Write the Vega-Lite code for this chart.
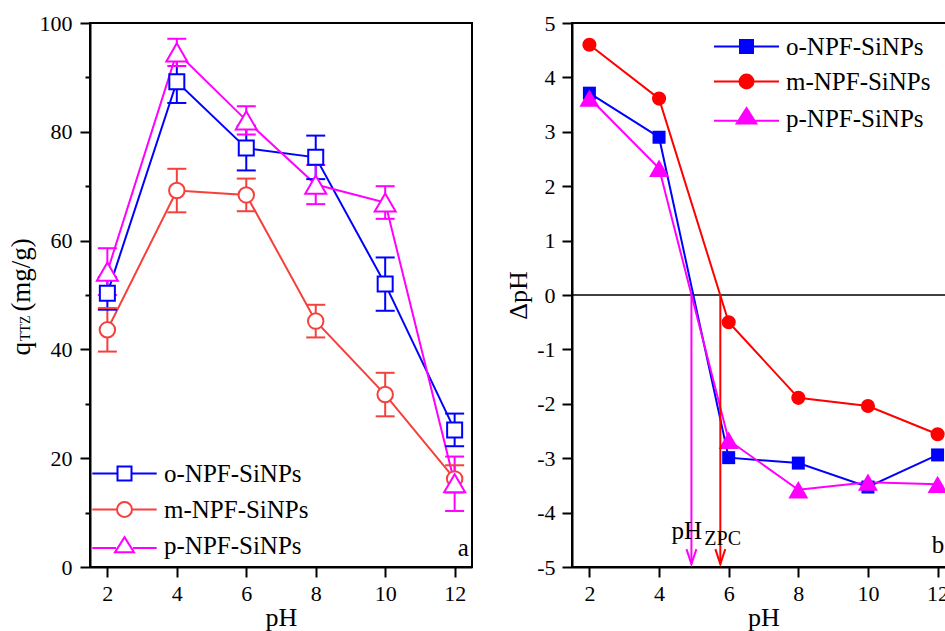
{
  "$schema": "https://vega.github.io/schema/vega-lite/v6.json",
  "background": "white",
  "padding": {"left": 6, "top": 11, "right": 0, "bottom": 0},
  "spacing": 31,
  "config": {
    "font": "Liberation Serif",
    "view": {"stroke": "black", "strokeWidth": 2},
    "axis": {
      "domainColor": "black", "domainWidth": 2, "tickColor": "black", "tickWidth": 2,
      "labelColor": "black", "labelFont": "Liberation Serif", "labelFontSize": 22,
      "titleFont": "Liberation Serif", "titleFontSize": 26, "titleFontWeight": "normal",
      "titleColor": "black", "grid": false, "labelOverlap": false, "labelFlush": false
    }
  },
  "resolve": {
    "scale": {"color": "independent", "shape": "independent", "stroke": "independent"},
    "legend": {"color": "independent", "shape": "independent", "stroke": "independent"}
  },
  "datasets": {
    "ads": [
      {"pH": 2, "series": "o-NPF-SiNPs", "q": 50.3, "lo": 47.3, "hi": 53.3},
      {"pH": 4, "series": "o-NPF-SiNPs", "q": 89.2, "lo": 85.3, "hi": 93.1},
      {"pH": 6, "series": "o-NPF-SiNPs", "q": 77.0, "lo": 72.9, "hi": 81.1},
      {"pH": 8, "series": "o-NPF-SiNPs", "q": 75.3, "lo": 71.3, "hi": 79.3},
      {"pH": 10, "series": "o-NPF-SiNPs", "q": 52.0, "lo": 47.1, "hi": 56.9},
      {"pH": 12, "series": "o-NPF-SiNPs", "q": 25.2, "lo": 22.2, "hi": 28.2},
      {"pH": 2, "series": "m-NPF-SiNPs", "q": 43.6, "lo": 39.6, "hi": 47.6},
      {"pH": 4, "series": "m-NPF-SiNPs", "q": 69.2, "lo": 65.2, "hi": 73.2},
      {"pH": 6, "series": "m-NPF-SiNPs", "q": 68.4, "lo": 65.4, "hi": 71.4},
      {"pH": 8, "series": "m-NPF-SiNPs", "q": 45.2, "lo": 42.2, "hi": 48.2},
      {"pH": 10, "series": "m-NPF-SiNPs", "q": 31.7, "lo": 27.7, "hi": 35.7},
      {"pH": 12, "series": "m-NPF-SiNPs", "q": 16.2, "lo": 13.7, "hi": 18.7},
      {"pH": 2, "series": "p-NPF-SiNPs", "q": 54.3, "lo": 50.0, "hi": 58.6},
      {"pH": 4, "series": "p-NPF-SiNPs", "q": 94.6, "lo": 92.1, "hi": 97.1},
      {"pH": 6, "series": "p-NPF-SiNPs", "q": 82.1, "lo": 79.5, "hi": 84.7},
      {"pH": 8, "series": "p-NPF-SiNPs", "q": 70.3, "lo": 66.7, "hi": 73.9},
      {"pH": 10, "series": "p-NPF-SiNPs", "q": 67.0, "lo": 64.0, "hi": 70.0},
      {"pH": 12, "series": "p-NPF-SiNPs", "q": 15.4, "lo": 10.3, "hi": 20.3}
    ],
    "zpc": [
      {"pH": 2, "sample": "o-NPF-SiNPs", "d": 3.71},
      {"pH": 4, "sample": "o-NPF-SiNPs", "d": 2.9},
      {"pH": 6, "sample": "o-NPF-SiNPs", "d": -2.99},
      {"pH": 8, "sample": "o-NPF-SiNPs", "d": -3.09},
      {"pH": 10, "sample": "o-NPF-SiNPs", "d": -3.53},
      {"pH": 12, "sample": "o-NPF-SiNPs", "d": -2.94},
      {"pH": 2, "sample": "m-NPF-SiNPs", "d": 4.6},
      {"pH": 4, "sample": "m-NPF-SiNPs", "d": 3.61},
      {"pH": 6, "sample": "m-NPF-SiNPs", "d": -0.5},
      {"pH": 8, "sample": "m-NPF-SiNPs", "d": -1.89},
      {"pH": 10, "sample": "m-NPF-SiNPs", "d": -2.04},
      {"pH": 12, "sample": "m-NPF-SiNPs", "d": -2.56},
      {"pH": 2, "sample": "p-NPF-SiNPs", "d": 3.62},
      {"pH": 4, "sample": "p-NPF-SiNPs", "d": 2.33},
      {"pH": 6, "sample": "p-NPF-SiNPs", "d": -2.67},
      {"pH": 8, "sample": "p-NPF-SiNPs", "d": -3.58},
      {"pH": 10, "sample": "p-NPF-SiNPs", "d": -3.44},
      {"pH": 12, "sample": "p-NPF-SiNPs", "d": -3.48}
    ]
  },
  "hconcat": [
    {
      "width": 382,
      "height": 544,
      "data": {"name": "ads"},
      "layer": [
        {
          "transform": [{"filter": "false"}],
          "mark": {"type": "point", "filled": false, "strokeWidth": 2, "opacity": 1},
          "encoding": {
            "x": {"field": "pH", "type": "quantitative"},
            "y": {"field": "q", "type": "quantitative"},
            "color": {"field": "series", "type": "nominal",
              "legend": {"title": null, "orient": "none", "legendX": -3, "legendY": 438, "padding": 0,
                "symbolSize": 196, "symbolStrokeWidth": 2, "symbolOffset": 25, "labelOffset": 27,
                "labelFontSize": 25, "labelFont": "Liberation Serif", "labelColor": "black", "rowPadding": 10,
                "symbolFillColor": "white"}},
            "shape": {"field": "series", "type": "nominal",
              "scale": {"domain": ["o-NPF-SiNPs", "m-NPF-SiNPs", "p-NPF-SiNPs"],
                "range": [
                  "M-4.6,0H-1M1,0H4.6M-1,-1H1V1H-1Z",
                  "M-4.6,0H-1.07M1.07,0H4.6M-1.07,0A1.07,1.07,0,1,1,1.07,0A1.07,1.07,0,1,1,-1.07,0Z",
                  "M-4.6,0.35H-1.2M1.2,0.35H4.6M0,-1.2L1.35,0.95H-1.35Z"
                ]},
              "legend": {"title": null, "orient": "none", "legendX": -3, "legendY": 438, "padding": 0,
                "symbolSize": 196, "symbolStrokeWidth": 2, "symbolOffset": 25, "labelOffset": 27,
                "labelFontSize": 25, "labelFont": "Liberation Serif", "labelColor": "black", "rowPadding": 10,
                "symbolFillColor": "white"}}
          }
        },
        {
          "mark": {"type": "line", "strokeWidth": 2},
          "encoding": {
            "x": {"field": "pH", "type": "quantitative",
              "scale": {"domain": [1.5, 12.5], "nice": false, "zero": false},
              "axis": {"values": [2, 3, 4, 5, 6, 7, 8, 9, 10, 11, 12],
                "labelExpr": "datum.value % 2 === 0 ? datum.label : ''",
                "tickSize": {"condition": {"test": "datum.value % 2 === 0", "value": 10}, "value": 5},
                "title": "pH", "labelPadding": 6, "titlePadding": 0}},
            "y": {"field": "q", "type": "quantitative",
              "scale": {"domain": [0, 100], "nice": false},
              "axis": {"values": [0, 10, 20, 30, 40, 50, 60, 70, 80, 90, 100],
                "labelExpr": "datum.value % 20 === 0 ? datum.label : ''",
                "tickSize": {"condition": {"test": "datum.value % 20 === 0", "value": 10}, "value": 5},
                "title": null, "labelPadding": 8}},
            "color": {"field": "series", "type": "nominal",
              "scale": {"domain": ["o-NPF-SiNPs", "m-NPF-SiNPs", "p-NPF-SiNPs"], "range": ["#0000ff", "#f5403c", "#ff00ff"]}}
          }
        },
        {
          "mark": {"type": "rule", "strokeWidth": 2},
          "encoding": {
            "x": {"field": "pH", "type": "quantitative"},
            "y": {"field": "lo", "type": "quantitative"},
            "y2": {"field": "hi"},
            "color": {"field": "series", "type": "nominal"}
          }
        },
        {
          "mark": {"type": "rule", "strokeWidth": 2, "xOffset": -9.5, "x2Offset": 9.5},
          "encoding": {
            "x": {"field": "pH", "type": "quantitative"},
            "x2": {"field": "pH"},
            "y": {"field": "lo", "type": "quantitative"},
            "color": {"field": "series", "type": "nominal"}
          }
        },
        {
          "mark": {"type": "rule", "strokeWidth": 2, "xOffset": -9.5, "x2Offset": 9.5},
          "encoding": {
            "x": {"field": "pH", "type": "quantitative"},
            "x2": {"field": "pH"},
            "y": {"field": "hi", "type": "quantitative"},
            "color": {"field": "series", "type": "nominal"}
          }
        },
        {
          "transform": [{"filter": "datum.series === 'o-NPF-SiNPs'"}],
          "mark": {"type": "point", "shape": "square", "filled": false, "fill": "white", "size": 225, "strokeWidth": 2, "opacity": 1},
          "encoding": {
            "x": {"field": "pH", "type": "quantitative"},
            "y": {"field": "q", "type": "quantitative"},
            "color": {"field": "series", "type": "nominal"}
          }
        },
        {
          "transform": [{"filter": "datum.series === 'm-NPF-SiNPs'"}],
          "mark": {"type": "point", "shape": "circle", "filled": false, "fill": "white", "size": 240, "strokeWidth": 2, "opacity": 1},
          "encoding": {
            "x": {"field": "pH", "type": "quantitative"},
            "y": {"field": "q", "type": "quantitative"},
            "color": {"field": "series", "type": "nominal"}
          }
        },
        {
          "transform": [{"filter": "datum.series === 'p-NPF-SiNPs'"}],
          "mark": {"type": "point", "shape": "triangle-up", "filled": false, "fill": "white", "size": 440, "strokeWidth": 2, "opacity": 1},
          "encoding": {
            "x": {"field": "pH", "type": "quantitative"},
            "y": {"field": "q", "type": "quantitative"},
            "color": {"field": "series", "type": "nominal"}
          }
        },
        {
          "data": {"values": [{"t": "q"}]},
          "mark": {"type": "text", "angle": 270, "align": "center", "baseline": "alphabetic", "fontSize": 27, "color": "black"},
          "encoding": {"x": {"datum": -0.242}, "y": {"datum": 40.1}, "text": {"field": "t"}}
        },
        {
          "data": {"values": [{"t": "TTZ"}]},
          "mark": {"type": "text", "angle": 270, "align": "center", "baseline": "alphabetic", "fontSize": 14, "color": "black"},
          "encoding": {"x": {"datum": -0.22}, "y": {"datum": 43.9}, "text": {"field": "t"}}
        },
        {
          "data": {"values": [{"t": "(mg/g)"}]},
          "mark": {"type": "text", "angle": 270, "align": "center", "baseline": "alphabetic", "fontSize": 27, "color": "black"},
          "encoding": {"x": {"datum": -0.242}, "y": {"datum": 53.7}, "text": {"field": "t"}}
        },
        {
          "data": {"values": [{"t": "a"}]},
          "mark": {"type": "text", "align": "right", "baseline": "alphabetic", "fontSize": 25, "color": "black"},
          "encoding": {"x": {"datum": 12.41}, "y": {"datum": 2.1}, "text": {"field": "t"}}
        }
      ]
    },
    {
      "width": 383,
      "height": 544,
      "data": {"name": "zpc"},
      "layer": [
        {
          "data": {"values": [{"zero": 0}]},
          "mark": {"type": "rule", "color": "black", "strokeWidth": 1.5},
          "encoding": {"y": {"field": "zero", "type": "quantitative"}}
        },
        {
          "mark": {"type": "line", "strokeWidth": 2},
          "encoding": {
            "x": {"field": "pH", "type": "quantitative",
              "scale": {"domain": [1.5, 12.5], "nice": false, "zero": false},
              "axis": {"values": [2, 3, 4, 5, 6, 7, 8, 9, 10, 11, 12],
                "labelExpr": "datum.value % 2 === 0 ? datum.label : ''",
                "tickSize": {"condition": {"test": "datum.value % 2 === 0", "value": 10}, "value": 5},
                "title": "pH", "labelPadding": 6, "titlePadding": 0}},
            "y": {"field": "d", "type": "quantitative",
              "scale": {"domain": [-5, 5], "nice": false, "zero": false},
              "axis": {"values": [-5, -4, -3, -2, -1, 0, 1, 2, 3, 4, 5],
                "labelExpr": "'' + datum.value", "tickSize": 10,
                "title": "ΔpH", "labelPadding": 7, "titlePadding": 5}},
            "color": {"field": "sample", "type": "nominal",
              "scale": {"domain": ["o-NPF-SiNPs", "m-NPF-SiNPs", "p-NPF-SiNPs"], "range": ["#0000ff", "#ff0000", "#ff00ff"]}}
          }
        },
        {
          "transform": [{"filter": "datum.sample === 'o-NPF-SiNPs'"}],
          "mark": {"type": "point", "shape": "square", "filled": true, "size": 169, "opacity": 1},
          "encoding": {
            "x": {"field": "pH", "type": "quantitative"},
            "y": {"field": "d", "type": "quantitative"},
            "color": {"field": "sample", "type": "nominal"}
          }
        },
        {
          "transform": [{"filter": "datum.sample === 'm-NPF-SiNPs'"}],
          "mark": {"type": "point", "shape": "circle", "filled": true, "size": 200, "opacity": 1},
          "encoding": {
            "x": {"field": "pH", "type": "quantitative"},
            "y": {"field": "d", "type": "quantitative"},
            "color": {"field": "sample", "type": "nominal"}
          }
        },
        {
          "transform": [{"filter": "datum.sample === 'p-NPF-SiNPs'"}],
          "mark": {"type": "point", "shape": "triangle-up", "filled": true, "size": 400, "opacity": 1},
          "encoding": {
            "x": {"field": "pH", "type": "quantitative"},
            "y": {"field": "d", "type": "quantitative"},
            "color": {"field": "sample", "type": "nominal"}
          }
        },
        {
          "data": {"values": [{"zpc": 4.93, "top": 0, "bottom": -4.95}]},
          "mark": {"type": "rule", "strokeWidth": 2, "color": "#ff00ff"},
          "encoding": {
            "x": {"field": "zpc", "type": "quantitative"},
            "y": {"field": "top", "type": "quantitative"},
            "y2": {"field": "bottom"}
          }
        },
        {
          "data": {"values": [{"zpc": 5.76, "top": 0, "bottom": -4.95}]},
          "mark": {"type": "rule", "strokeWidth": 2, "color": "#ff0000"},
          "encoding": {
            "x": {"field": "zpc", "type": "quantitative"},
            "y": {"field": "top", "type": "quantitative"},
            "y2": {"field": "bottom"}
          }
        },
        {
          "data": {"values": [{"zpc": 4.93, "head": -4.81}]},
          "mark": {"type": "point", "shape": "M-0.66,-1L0,1L0.66,-1", "filled": false, "size": 225, "strokeWidth": 2, "opacity": 1, "color": "#ff00ff"},
          "encoding": {
            "x": {"field": "zpc", "type": "quantitative"},
            "y": {"field": "head", "type": "quantitative"}
          }
        },
        {
          "data": {"values": [{"zpc": 5.76, "head": -4.81}]},
          "mark": {"type": "point", "shape": "M-0.66,-1L0,1L0.66,-1", "filled": false, "size": 225, "strokeWidth": 2, "opacity": 1, "color": "#ff0000"},
          "encoding": {
            "x": {"field": "zpc", "type": "quantitative"},
            "y": {"field": "head", "type": "quantitative"}
          }
        },
        {
          "data": {"values": [{"t": "pH"}]},
          "mark": {"type": "text", "align": "left", "baseline": "alphabetic", "fontSize": 25, "color": "black"},
          "encoding": {"x": {"datum": 4.356}, "y": {"datum": -4.49}, "text": {"field": "t"}}
        },
        {
          "data": {"values": [{"t": "ZPC"}]},
          "mark": {"type": "text", "align": "left", "baseline": "alphabetic", "fontSize": 20, "color": "black"},
          "encoding": {"x": {"datum": 5.3}, "y": {"datum": -4.6}, "text": {"field": "t"}}
        },
        {
          "data": {"values": [{"t": "b"}]},
          "mark": {"type": "text", "align": "left", "baseline": "alphabetic", "fontSize": 25, "color": "black"},
          "encoding": {"x": {"datum": 11.83}, "y": {"datum": -4.75}, "text": {"field": "t"}}
        },
        {
          "transform": [{"filter": "false"}],
          "mark": {"type": "point", "filled": true, "strokeWidth": 2, "opacity": 1},
          "encoding": {
            "x": {"field": "pH", "type": "quantitative"},
            "y": {"field": "d", "type": "quantitative"},
            "color": {"field": "sample", "type": "nominal",
              "legend": {"title": null, "orient": "none", "legendX": 136, "legendY": 11, "padding": 0,
                "symbolSize": 169, "symbolStrokeWidth": 2, "symbolOffset": 26, "labelOffset": 27,
                "labelFontSize": 25, "labelFont": "Liberation Serif", "labelColor": "black", "rowPadding": 9}},
            "shape": {"field": "sample", "type": "nominal",
              "scale": {"domain": ["o-NPF-SiNPs", "m-NPF-SiNPs", "p-NPF-SiNPs"],
                "range": [
                  "M-5,0H-1M1,0H5M-1,-1H1V1H-1Z",
                  "M-5,0H-1.07M1.07,0H5M-1.07,0A1.07,1.07,0,1,1,1.07,0A1.07,1.07,0,1,1,-1.07,0Z",
                  "M-5,0.35H-1.4M1.4,0.35H5M0,-1.6L1.5,0.75H-1.5Z"
                ]},
              "legend": {"title": null, "orient": "none", "legendX": 136, "legendY": 11, "padding": 0,
                "symbolSize": 169, "symbolStrokeWidth": 2, "symbolOffset": 26, "labelOffset": 27,
                "labelFontSize": 25, "labelFont": "Liberation Serif", "labelColor": "black", "rowPadding": 9}},
            "stroke": {"field": "sample", "type": "nominal",
              "scale": {"domain": ["o-NPF-SiNPs", "m-NPF-SiNPs", "p-NPF-SiNPs"], "range": ["#0000ff", "#ff0000", "#ff00ff"]},
              "legend": {"title": null, "orient": "none", "legendX": 136, "legendY": 11, "padding": 0,
                "symbolSize": 169, "symbolStrokeWidth": 2, "symbolOffset": 26, "labelOffset": 27,
                "labelFontSize": 25, "labelFont": "Liberation Serif", "labelColor": "black", "rowPadding": 9}}
          }
        }
      ]
    }
  ]
}
